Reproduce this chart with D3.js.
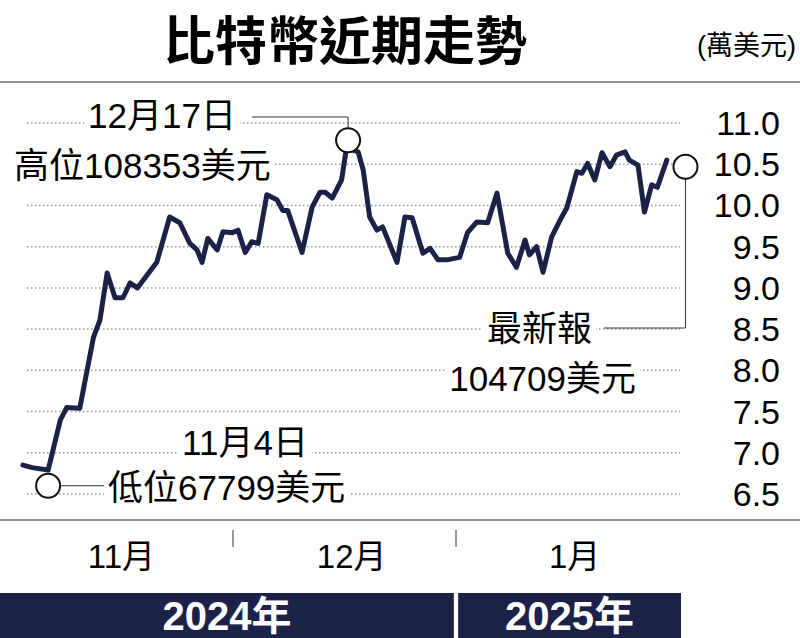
<!DOCTYPE html>
<html><head><meta charset="utf-8">
<script src="https://cdn.jsdelivr.net/npm/d3@7"></script>
<style>body{margin:0;background:#fff}svg{display:block;font-family:"Liberation Sans","Noto Sans CJK TC",sans-serif}</style>
</head><body><svg width="800" height="638"></svg>
<script>
// days from 1 Dec 2024, price in 萬美元
const days = [-29.2,-27.9,-25.7,-24,-23.1,-21.3,-19.4,-18.5,-17.5,-16.4,-15.3,-14.3,-13.3,-10.6,-8.8,-7.4,-6,-5,-4.3,-3.5,-2.2,-1.4,-0.1,0.7,1.7,2.6,3.5,4.7,6.1,6.9,7.6,9.6,11,12.1,12.8,13.8,15.1,16,16.7,17.4,18.1,19,20,20.8,22.8,23.9,24.9,26.4,27.4,28.5,29.7,31.5,32.6,33.9,35.4,36.7,38.2,39.4,40.6,41.2,42.2,43.1,44.3,45.7,46.4,47.8,48.5,49.3,50.3,51.3,52.4,53.3,54.5,55.1,56.3,57.2,58.2,59,60.3];
const prices = [6.85,6.82,6.79,7.40,7.55,7.54,8.40,8.61,9.18,8.88,8.88,9.06,9.00,9.31,9.86,9.79,9.54,9.46,9.31,9.60,9.46,9.68,9.67,9.70,9.43,9.56,9.54,10.13,10.07,9.94,9.94,9.43,9.98,10.16,10.16,10.09,10.31,10.83,10.67,10.65,10.43,9.86,9.70,9.74,9.31,9.86,9.85,9.42,9.48,9.34,9.34,9.37,9.67,9.80,9.79,10.15,9.42,9.25,9.58,9.40,9.50,9.19,9.62,9.86,9.97,10.41,10.39,10.51,10.31,10.64,10.47,10.61,10.65,10.55,10.49,9.92,10.25,10.22,10.55];
const yTicks = [11.0,10.5,10.0,9.5,9.0,8.5,8.0,7.5,7.0,6.5];
const months = [{label:'11月', d:-15.5}, {label:'12月', d:16.5}, {label:'1月', d:47.5}];
const monthBreaks = [0, 31];
const low = {d:-25.7, v:6.6}, high = {d:16, v:10.79}, last = {d:62.9, v:10.47};

const navy = '#1c2147';
const svg = d3.select('svg');
const x = d3.scaleLinear().domain([0, 31]).range([233, 456]);
const y = d3.scaleLinear().domain([6.5, 11]).range([494, 123]);

svg.append('text').attr('x', 345).attr('y', 60).attr('text-anchor', 'middle')
  .attr('font-size', 52).attr('font-weight', 'bold').text('比特幣近期走勢');
svg.append('text').attr('x', 796).attr('y', 55).attr('text-anchor', 'end')
  .attr('font-size', 27).text('(萬美元)');
svg.append('line').attr('x1', 0).attr('x2', 800).attr('y1', 82).attr('y2', 82).attr('stroke', '#222').attr('stroke-width', 1);

// grid
svg.append('g').selectAll('line').data(yTicks).join('line')
  .attr('x1', 27).attr('x2', 680).attr('y1', d => y(d)).attr('y2', d => y(d))
  .attr('stroke', '#999').attr('stroke-width', 1.5).attr('stroke-dasharray', '1.5 2.5');
svg.append('g').selectAll('text').data(yTicks).join('text')
  .attr('x', 780).attr('y', d => y(d) + 12).attr('text-anchor', 'end')
  .attr('font-family', '"Liberation Sans Narrow","Liberation Sans",sans-serif')
  .attr('font-size', 34).text(d => d.toFixed(1));

// line
const line = d3.line().x((d, i) => x(days[i])).y(d => y(d));
svg.append('path').datum(prices).attr('d', line).attr('fill', 'none')
  .attr('stroke', navy).attr('stroke-width', 5).attr('stroke-linejoin', 'round').attr('stroke-linecap', 'round');

// annotations with white backing
function label(tx, ty, txt, anchor) {
  const t = svg.append('text').attr('x', tx).attr('y', ty).attr('text-anchor', anchor || 'start')
    .attr('font-size', 35).text(txt);
  const b = t.node().getBBox();
  svg.insert('rect', 'path').attr('x', b.x - 4).attr('y', b.y).attr('width', b.width + 8).attr('height', b.height).attr('fill', '#fff');
  return t;
}
function circ(p) {
  svg.append('circle').attr('cx', x(p.d)).attr('cy', y(p.v)).attr('r', 12)
    .attr('fill', '#fff').attr('stroke', '#111').attr('stroke-width', 2);
}
const lead = d3.line();
// high
svg.append('path').attr('d', lead([[252, 117], [x(high.d), 117], [x(high.d), y(high.v) - 12]])).attr('fill', 'none').attr('stroke', '#333');
label(162, 128, '12月17日', 'middle');
label(14, 178, '高位108353美元', 'start');
circ(high);
// low
svg.append('path').attr('d', lead([[x(low.d) + 12, y(low.v)], [104, y(low.v)]])).attr('stroke', '#333');
label(245, 455, '11月4日', 'middle');
label(108, 500, '低位67799美元', 'start');
circ(low);
// latest
svg.append('path').attr('d', lead([[x(last.d), y(last.v) + 12], [x(last.d), 328], [604, 328]])).attr('fill', 'none').attr('stroke', '#333');
label(592, 341, '最新報', 'end');
label(636, 391, '104709美元', 'end');
circ(last);

// x axis
svg.append('line').attr('x1', 0).attr('x2', 800).attr('y1', 520).attr('y2', 520).attr('stroke', '#222').attr('stroke-width', 1);
svg.append('g').selectAll('line').data(monthBreaks).join('line')
  .attr('x1', d => x(d)).attr('x2', d => x(d)).attr('y1', 530).attr('y2', 547).attr('stroke', '#333');
svg.append('g').selectAll('text').data(months).join('text')
  .attr('x', d => x(d.d)).attr('y', 568).attr('text-anchor', 'middle')
  .attr('font-size', 33).text(d => d.label);

// year band
const band = [{label:'2024年', x0:0, x1:x(30.7)}, {label:'2025年', x0:x(31.3), x1:681}];
const yb = svg.append('g').selectAll('g').data(band).join('g');
yb.append('rect').attr('x', d => d.x0).attr('width', d => d.x1 - d.x0).attr('y', 593).attr('height', 45).attr('fill', navy);
yb.append('text').attr('x', d => (d.x0 + d.x1) / 2).attr('y', 630).attr('text-anchor', 'middle')
  .attr('fill', '#fff').attr('font-size', 40).attr('font-weight', 'bold').text(d => d.label);
</script></body></html>
